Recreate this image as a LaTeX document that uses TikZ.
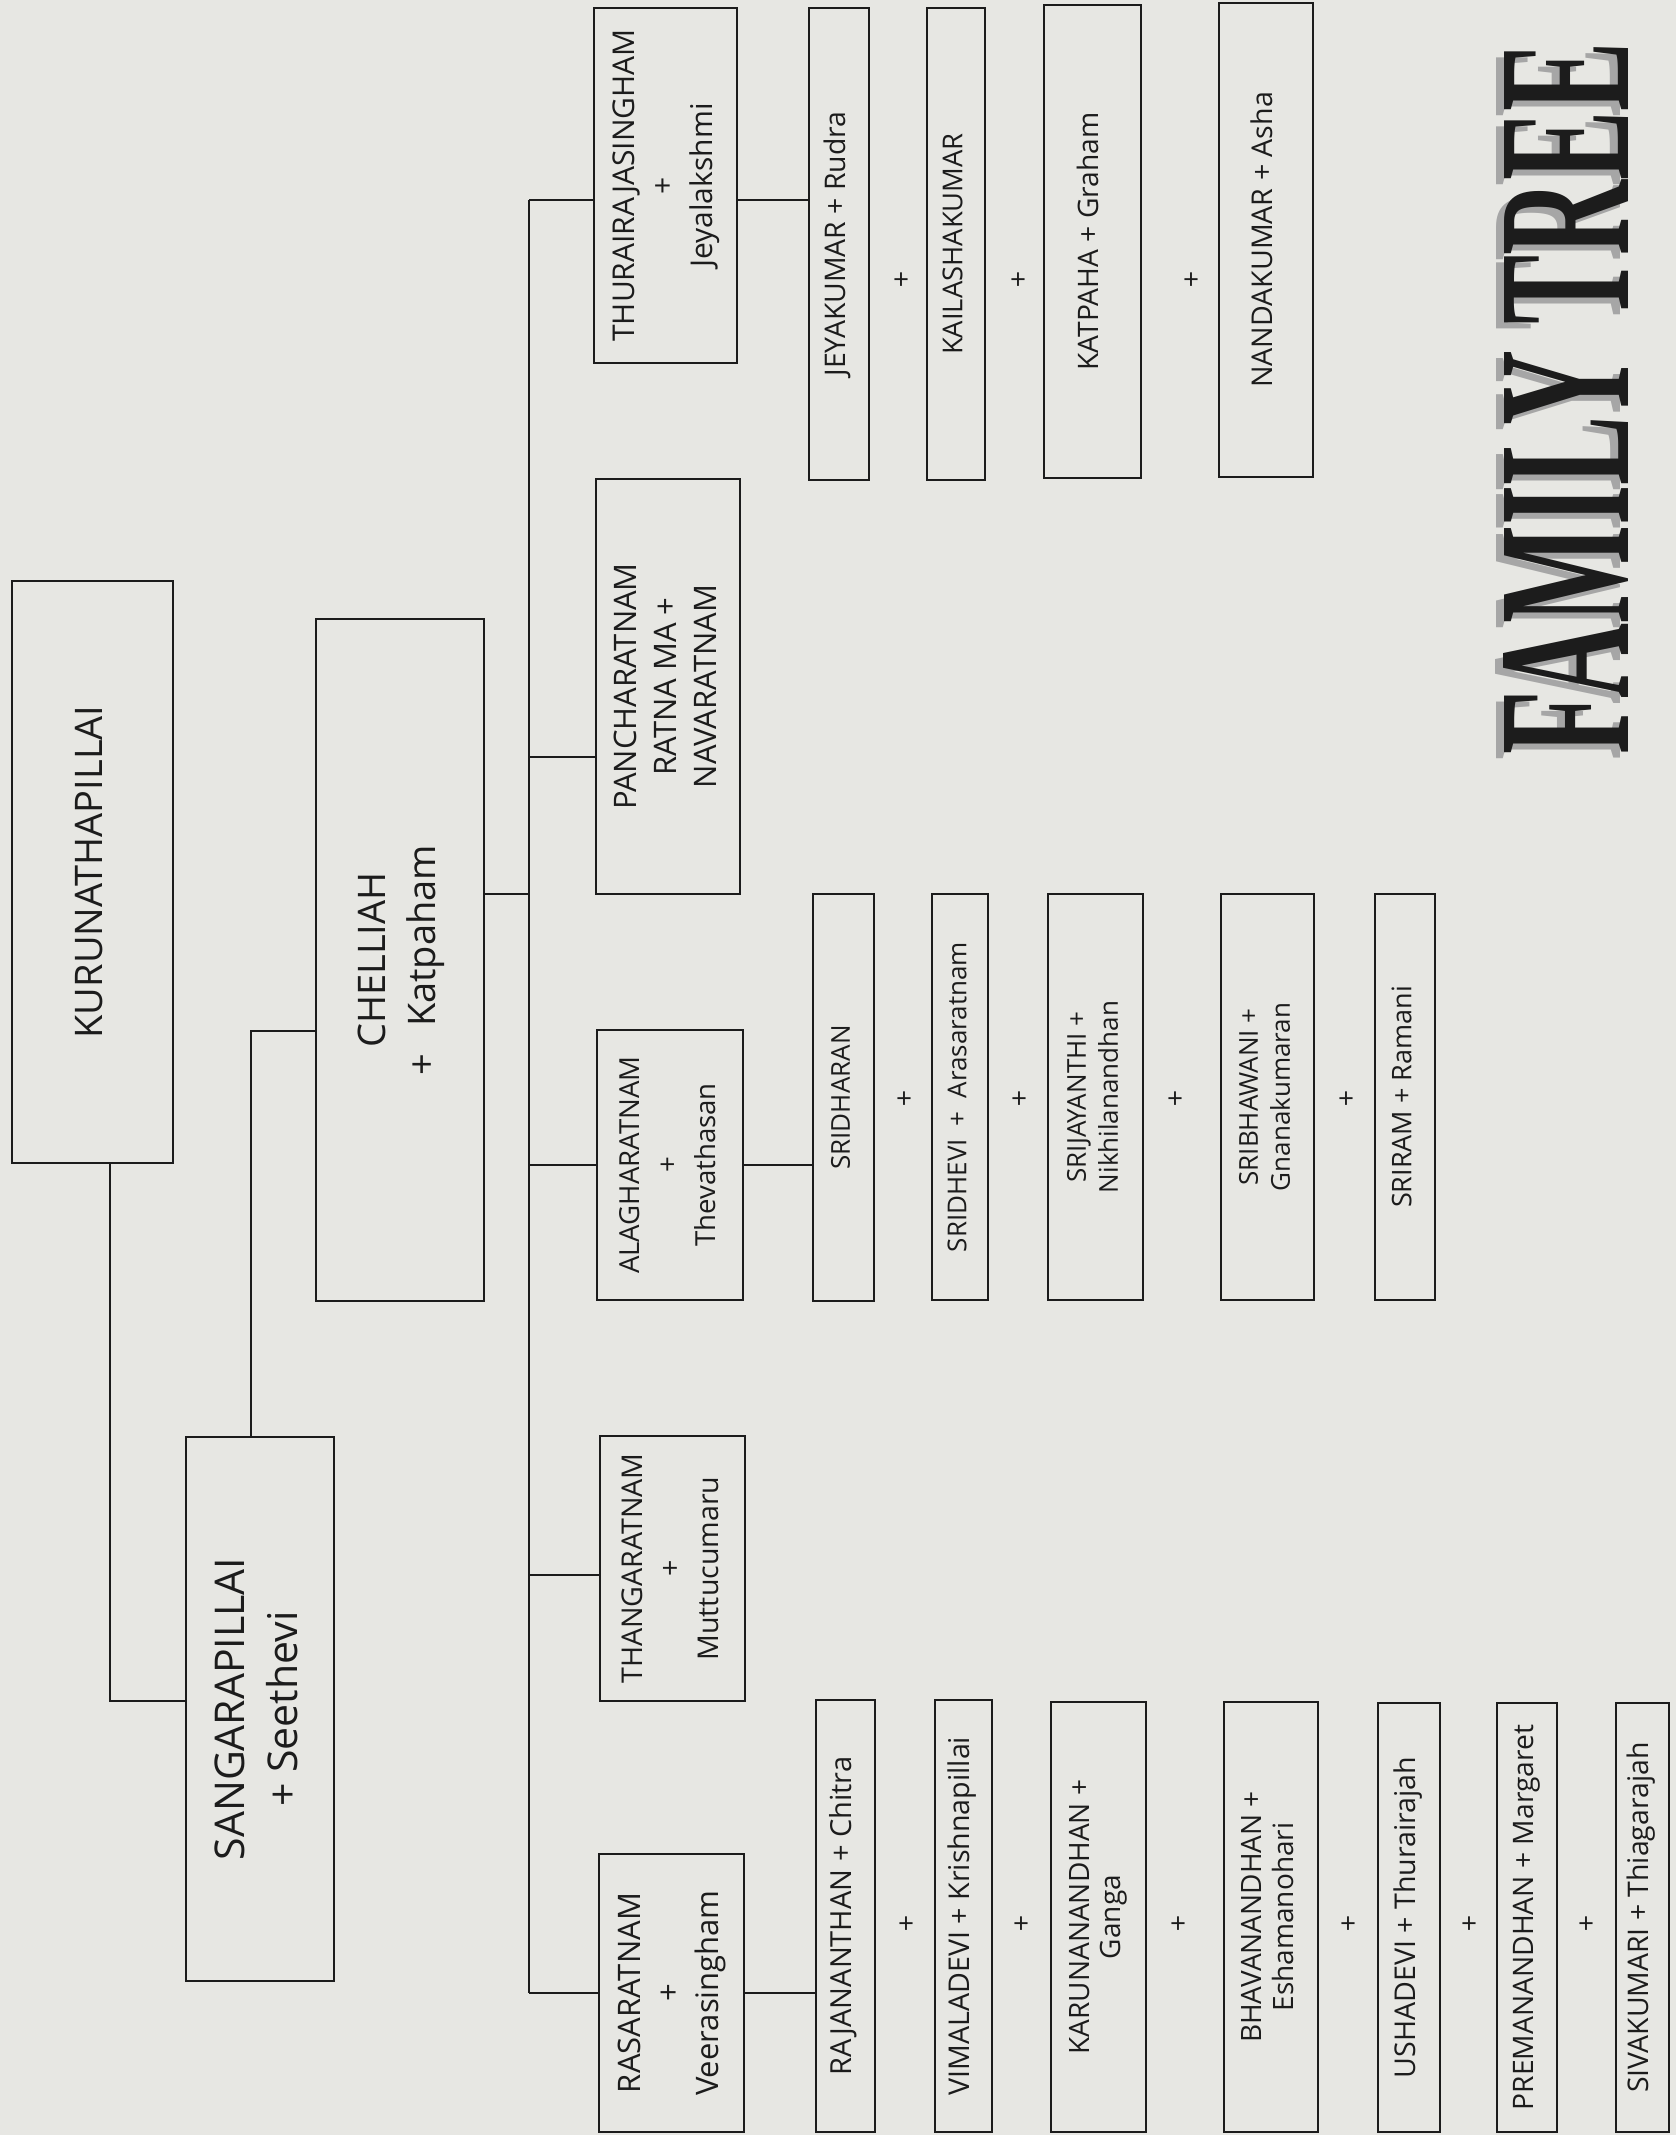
\documentclass[tikz,border=0pt]{standalone}
\usepackage{fontspec}
\usepackage{graphicx}
\setmainfont{Open Sans}
\newfontfamily\titlefont{Liberation Serif}
\usetikzlibrary{fit}
\definecolor{paper}{RGB}{231,231,227}
\definecolor{ink}{RGB}{28,28,28}
\newcommand\famlab[3]{\rotatebox{90}{\fontsize{#1}{#2}\selectfont\begin{tabular}{@{}c@{}}#3\end{tabular}}}
\begin{document}
\begin{tikzpicture}[x=0.5pt,y=-0.5pt,
  person/.style={draw=ink, line width=1.1pt, inner sep=0pt},
  lbl/.style={text=ink, inner sep=0pt},
  link/.style={draw=ink, line width=1.1pt},
  plus/.style={text=ink, inner sep=0pt, font=\fontsize{14}{16}\selectfont}]
\fill[paper] (0,0) rectangle (1676,2135);
\useasboundingbox (0,0) rectangle (1676,2135);

% generation 1-2
\node[person, fit={(12,581) (173,1163)}] (kuru) {};
\node[lbl] (kurut) at (kuru.center) {\famlab{19}{25}{KURUNATHAPILLAI}};
\node[person, fit={(186,1437) (334,1981)}] (sanga) {};
\node[lbl] (sangat) at (sanga.center) {\famlab{20.5}{26.5}{SANGARAPILLAI\\+ Seethevi}};
\node[person, fit={(316,619) (484,1301)}] (chel) {};
\node[lbl] (chelt) at (chel.center) {\famlab{19}{25}{CHELLIAH\\+\hspace{0.7em}Katpaham}};

% children
\node[person, fit={(594,8) (737,363)}] (thurai) {};
\node[lbl] (thurait) at (thurai.center) {\famlab{15}{19.5}{THURAIRAJASINGHAM\\+\\Jeyalakshmi}};
\node[person, fit={(596,479) (740,894)}] (pancha) {};
\node[lbl] (panchat) at (pancha.center) {\famlab{15.5}{20}{PANCHARATNAM\\RATNA MA +\\NAVARATNAM}};
\node[person, fit={(597,1030) (743,1300)}] (alagha) {};
\node[lbl] (alaghat) at (alagha.center) {\famlab{13.8}{19}{ALAGHARATNAM\\+\\Thevathasan}};
\node[person, fit={(600,1436) (745,1701)}] (thanga) {};
\node[lbl] (thangat) at (thanga.center) {\famlab{14.3}{19}{THANGARATNAM\\+\\Muttucumaru}};
\node[person, fit={(599,1854) (744,2132)}] (rasa) {};
\node[lbl] (rasat) at (rasa.center) {\famlab{15.5}{19.5}{RASARATNAM\\+\\Veerasingham}};

% grandchildren of Thurairajasingham
\node[person, fit={(809,8) (869,480)}] (jey) {};
\node[lbl] (jeyt) at (jey.center) {\famlab{14.2}{16}{JEYAKUMAR + Rudra}};
\node[person, fit={(927,8) (985,480)}] (kail) {};
\node[lbl] (kailt) at (kail.center) {\famlab{13.7}{16}{KAILASHAKUMAR}};
\node[person, fit={(1044,5) (1141,478)}] (kat) {};
\node[lbl] (katt) at (kat.center) {\famlab{14.1}{16}{KATPAHA + Graham}};
\node[person, fit={(1219,3) (1313,477)}] (nand) {};
\node[lbl] (nandt) at (nand.center) {\famlab{14.3}{16}{NANDAKUMAR + Asha}};
\node[plus] (pt1) at (901,281) {+};
\node[plus] (pt2) at (1018,281) {+};
\node[plus] (pt3) at (1191,281) {+};

% grandchildren of Alagharatnam
\node[person, fit={(813,894) (874,1301)}] (sridharan) {};
\node[lbl] (sridharant) at (sridharan.center) {\famlab{13}{16}{SRIDHARAN}};
\node[person, fit={(932,894) (988,1300)}] (sridhevi) {};
\node[lbl] (sridhevit) at (sridhevi.center) {\famlab{13}{16}{SRIDHEVI\enspace+\enspace Arasaratnam}};
\node[person, fit={(1048,894) (1143,1300)}] (srijay) {};
\node[lbl] (srijayt) at (srijay.center) {\famlab{13}{16}{SRIJAYANTHI +\\Nikhilanandhan}};
\node[person, fit={(1221,894) (1314,1300)}] (sribha) {};
\node[lbl] (sribhat) at (sribha.center) {\famlab{13}{16}{SRIBHAWANI +\\Gnanakumaran}};
\node[person, fit={(1375,894) (1435,1300)}] (sriram) {};
\node[lbl] (sriramt) at (sriram.center) {\famlab{13.5}{16}{SRIRAM + Ramani}};
\node[plus] (pa1) at (904,1100) {+};
\node[plus] (pa2) at (1019,1100) {+};
\node[plus] (pa3) at (1175,1100) {+};
\node[plus] (pa4) at (1346,1100) {+};

% grandchildren of Rasaratnam
\node[person, fit={(816,1700) (875,2132)}] (rajan) {};
\node[lbl] (rajant) at (rajan.center) {\famlab{14.5}{16}{RAJANANTHAN + Chitra}};
\node[person, fit={(935,1700) (992,2132)}] (vimala) {};
\node[lbl] (vimalat) at (vimala.center) {\famlab{14.3}{16}{VIMALADEVI + Krishnapillai}};
\node[person, fit={(1051,1702) (1146,2132)}] (karuna) {};
\node[lbl] (karunat) at (karuna.center) {\famlab{14}{15.5}{KARUNANANDHAN +\\Ganga}};
\node[person, fit={(1224,1702) (1318,2132)}] (bhava) {};
\node[lbl] (bhavat) at (bhava.center) {\famlab{14}{16}{BHAVANANDHAN +\\Eshamanohari}};
\node[person, fit={(1378,1703) (1440,2132)}] (usha) {};
\node[lbl] (ushat) at (usha.center) {\famlab{14.3}{16}{USHADEVI + Thurairajah}};
\node[person, fit={(1497,1703) (1557,2132)}] (prema) {};
\node[lbl] (premat) at (prema.center) {\famlab{14.1}{16}{PREMANANDHAN + Margaret}};
\node[person, fit={(1616,1703) (1669,2132)}] (siva) {};
\node[lbl] (sivat) at (siva.center) {\famlab{14.2}{16}{SIVAKUMARI + Thiagarajah}};
\node[plus] (pr1) at (906,1925) {+};
\node[plus] (pr2) at (1021,1925) {+};
\node[plus] (pr3) at (1178,1925) {+};
\node[plus] (pr4) at (1348,1925) {+};
\node[plus] (pr5) at (1469,1925) {+};
\node[plus] (pr6) at (1586,1925) {+};

% connectors
\coordinate (k1) at (110,1701);
\draw[link] (k1 |- kuru.south) -- (k1) -- (k1 -| sanga.west);
\coordinate (s1) at (251,1031);
\draw[link] (s1 |- sanga.north) -- (s1) -- (s1 -| chel.west);
\coordinate (c1) at (529,894);
\draw[link] (c1 -| chel.east) -- (c1);
\coordinate (sp1) at (529,200);
\coordinate (sp2) at (529,757);
\coordinate (sp3) at (529,1165);
\coordinate (sp4) at (529,1575);
\coordinate (sp5) at (529,1993);
\draw[link] (sp1) -- (sp5);
\draw[link] (sp1) -- (sp1 -| thurai.west);
\draw[link] (sp2) -- (sp2 -| pancha.west);
\draw[link] (sp3) -- (sp3 -| alagha.west);
\draw[link] (sp4) -- (sp4 -| thanga.west);
\draw[link] (sp5) -- (sp5 -| rasa.west);
\draw[link] (sp1 -| thurai.east) -- (sp1 -| jey.west);
\draw[link] (sp3 -| alagha.east) -- (sp3 -| sridharan.west);
\draw[link] (sp5 -| rasa.east) -- (sp5 -| rajan.west);

% title
\node[text=black!35, inner sep=0pt] (titleshadow) at (1558,404) {\rotatebox{90}{\resizebox{356pt}{62.5pt}{\titlefont\bfseries FAMILY TREE}}};
\node[text=ink, inner sep=0pt] (title) at (1566,398) {\rotatebox{90}{\resizebox{356pt}{62.5pt}{\titlefont\bfseries FAMILY TREE}}};
\end{tikzpicture}
\end{document}
